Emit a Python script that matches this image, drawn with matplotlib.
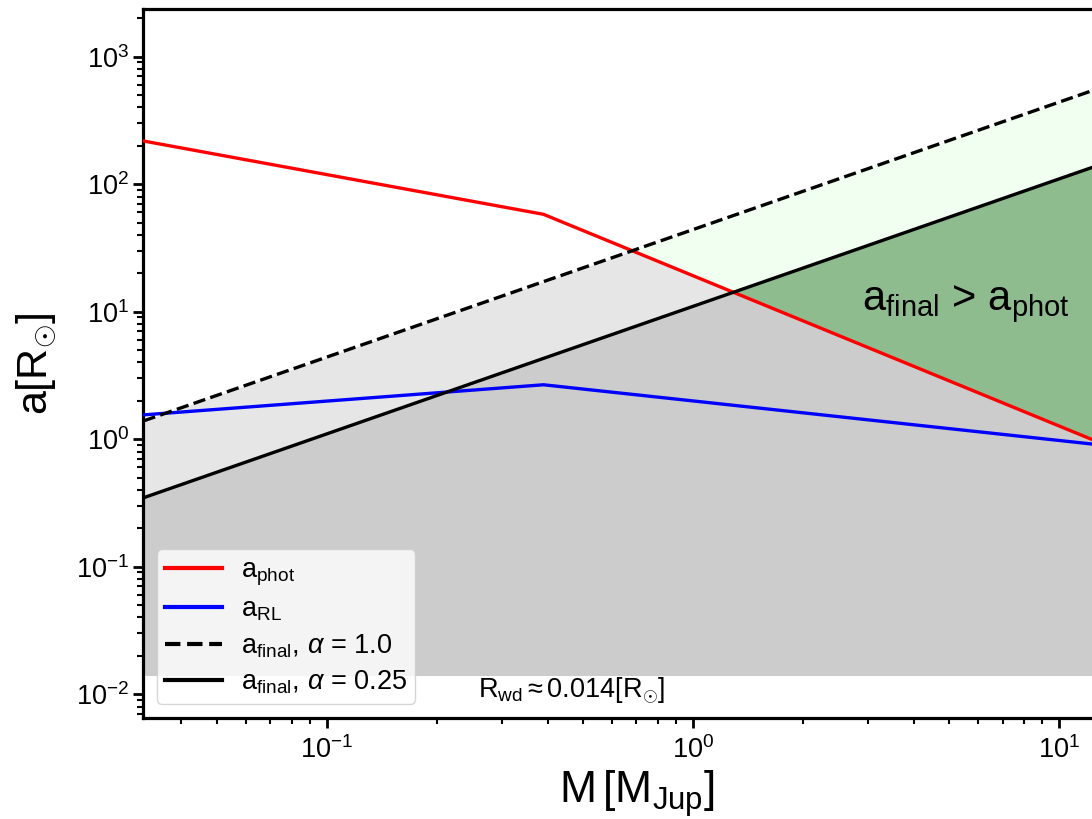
import matplotlib
matplotlib.use('Agg')
import matplotlib.pyplot as plt
from matplotlib.path import Path
import numpy as np

plt.rcParams['font.family'] = ['Liberation Sans', 'DejaVu Sans']
plt.rcParams['mathtext.fontset'] = 'custom'
plt.rcParams['mathtext.rm'] = 'Liberation Sans'
plt.rcParams['mathtext.it'] = 'Liberation Sans:italic'
plt.rcParams['mathtext.bf'] = 'Liberation Sans:bold'

# planet mass [M_Jup] and separations [R_sun]
mass = [0.0315, 0.39, 13.0]
a_phot = [218.0, 58.0, 0.93]
a_rl = [1.55, 2.67, 0.90]
a_final_1 = [1.39, 17.2, 572.0]
a_final_025 = [0.347, 4.3, 143.0]
r_wd = 0.014

fig = plt.figure(figsize=(10.92, 8.19), dpi=100)
ax = fig.add_axes([0.1314, 0.1233, 0.8768, 0.8653])
ax.set_xscale('log')
ax.set_yscale('log')

# shaded regions
ax.fill_between(mass, r_wd, a_final_025, color='#cccccc', lw=0, zorder=1)
ax.fill_between(mass, a_final_025, a_final_1, color='#e6e6e6', lw=0, zorder=1)

# region above the photosphere line, used to clip the green fills
above_phot = Path(list(zip(mass, a_phot)) + [(mass[-1], 1e6), (mass[0], 1e6), (mass[0], a_phot[0])],
                  closed=True)
g1 = ax.fill_between(mass, r_wd, a_final_025, color='darkseagreen', lw=0, zorder=2)
g1.set_clip_path(above_phot, ax.transData)
g2 = ax.fill_between(mass, a_final_025, a_final_1, color='honeydew', lw=0, zorder=2)
g2.set_clip_path(above_phot, ax.transData)

ax.plot(mass, a_phot, color='red', lw=2.4, zorder=4, label=r'$\mathrm{a_{phot}}$')
ax.plot(mass, a_rl, color='blue', lw=2.4, zorder=4, label=r'$\mathrm{a_{RL}}$')
ax.plot(mass, a_final_1, 'k--', lw=2.4, zorder=4, label=r'$\mathrm{a_{final}}$, $\alpha$ = 1.0')
ax.plot(mass, a_final_025, 'k-', lw=2.4, zorder=4, label=r'$\mathrm{a_{final}}$, $\alpha$ = 0.25')

ax.text(2.9, 10.3, r'$\mathrm{a_{final}}$ > $\mathrm{a_{phot}}$', fontsize=30, va='baseline', zorder=5)
ax.text(0.258, 0.0094, r'$\mathrm{R_{wd}}\approx 0.014[\mathrm{R_{\odot}}]$', fontsize=19.5,
        va='baseline', zorder=5)

ax.set_xlim(0.0315, 13.0)
ax.set_ylim(0.0065, 2350)
ax.set_xlabel(r'$\mathrm{M\,[M_{Jup}]}$', fontsize=32)
ax.set_ylabel(r'$\mathrm{a[R_{\odot}]}$', fontsize=31, labelpad=12)
ax.xaxis.set_label_coords(0.515, -0.07)

for s in ax.spines.values():
    s.set_linewidth(2.3)
ax.tick_params(which='major', labelsize=19.5, length=7, width=2)
ax.tick_params(which='major', axis='x', pad=6)
ax.tick_params(which='minor', length=4, width=1.5)

leg = ax.legend(loc='lower left', fontsize=19.5, labelspacing=0.33, borderpad=0.3,
                handlelength=2.1, handletextpad=0.7)
for h in leg.get_lines():
    h.set_linewidth(3)

plt.savefig('out.png', dpi=100)
